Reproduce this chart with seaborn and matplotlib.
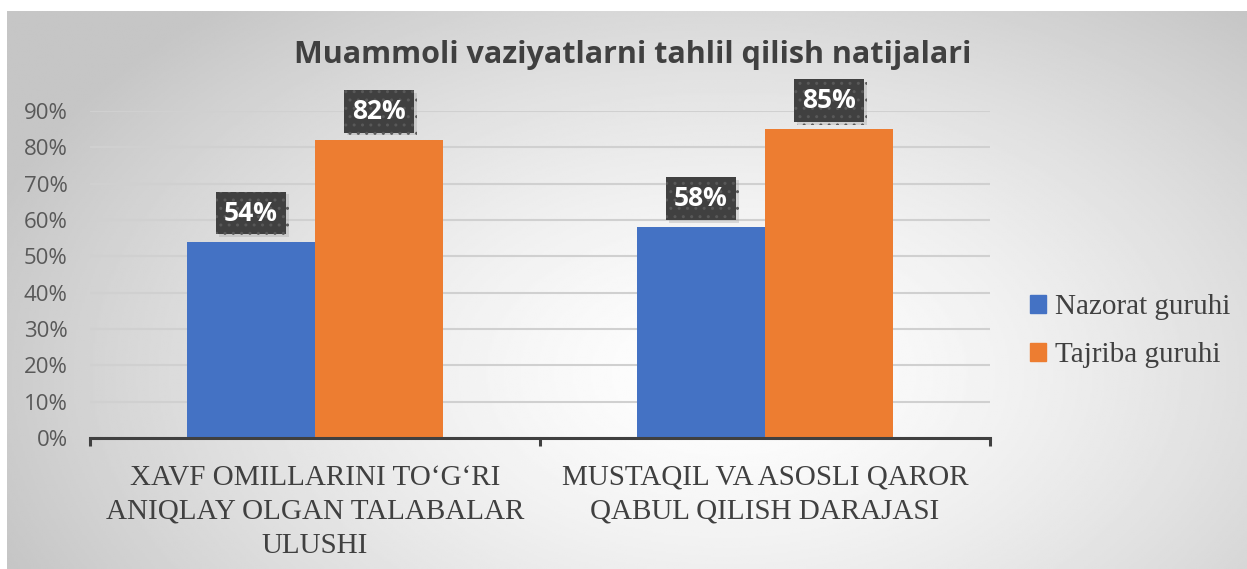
import numpy as np
import pandas as pd
import seaborn as sns
import matplotlib.pyplot as plt
import matplotlib.patheffects as pe
from matplotlib.ticker import PercentFormatter

# Ma'lumotlar
categories = ["XAVF OMILLARINI TO\u2018G\u2018RI\nANIQLAY OLGAN TALABALAR\nULUSHI",
              "MUSTAQIL VA ASOSLI QAROR\nQABUL QILISH DARAJASI"]
groups = ["Nazorat guruhi", "Tajriba guruhi"]
nazorat = [0.54, 0.58]
tajriba = [0.82, 0.85]
yticks = [0, 0.1, 0.2, 0.3, 0.4, 0.5, 0.6, 0.7, 0.8, 0.9]

df = pd.DataFrame({
    "kategoriya": categories * 2,
    "guruh": [groups[0]] * 2 + [groups[1]] * 2,
    "qiymat": nazorat + tajriba,
})

plt.rcParams['font.family'] = ['Open Sans', 'DejaVu Sans']

fig = plt.figure(figsize=(12.47, 5.69), dpi=100)

# fon: radial gradient
bg = fig.add_axes([0.0056, 0.0, 0.9944, 0.981])
yy, xx = np.mgrid[0:1:300j, 0:1:600j]
r = np.sqrt(((xx - 0.58) / 0.62) ** 2 + ((yy - 0.35) / 0.85) ** 2)
shade = np.clip(1.0 - 0.22 * r ** 1.4, 0.775, 1.0)
bg.imshow(shade, cmap='gray', vmin=0, vmax=1, aspect='auto', extent=[0, 1, 0, 1], origin='lower')
bg.set_axis_off()

ax = fig.add_axes([0.0722, 0.230, 0.7218, 0.575])
ax.patch.set_alpha(0)
sns.barplot(data=df, x="kategoriya", y="qiymat", hue="guruh",
            palette=["#4472C4", "#ED7D31"], width=0.57, ax=ax,
            saturation=1, legend=False)

ax.set_ylim(0, 0.9)
ax.set_xlim(-0.5, 1.5)
ax.set_yticks(yticks)
ax.yaxis.set_major_formatter(PercentFormatter(1.0, decimals=0))
ax.grid(axis='y', color='#d0d0d0', linewidth=1.5)
ax.set_axisbelow(True)
for s in ['left', 'right', 'top']:
    ax.spines[s].set_visible(False)
ax.spines['bottom'].set_color('#404040')
ax.spines['bottom'].set_linewidth(2.2)
ax.set_xlabel("")
ax.set_ylabel("")
ax.tick_params(axis='y', length=0, labelsize=16, labelcolor='#595959', pad=16)
ax.set_xticks([-0.5, 0.5, 1.5], minor=True)
ax.tick_params(axis='x', which='major', length=0, pad=19)
ax.tick_params(axis='x', which='minor', length=6, width=2.2, color='#404040')
for lab in ax.get_xticklabels():
    lab.set_fontfamily(['Liberation Serif'])
    lab.set_fontsize(21)
    lab.set_color('#404040')
    lab.set_multialignment('center')
    lab.set_linespacing(1.4)

for cont in ax.containers:
    anns = ax.bar_label(cont, labels=[f"{v * 100:.0f}%" for v in cont.datavalues],
                        padding=11, color='white', fontweight='bold', fontsize=19,
                        bbox=dict(boxstyle='square,pad=0.3', facecolor='#404040',
                                  edgecolor='#595959', hatch='..', linewidth=0))
    for a in anns:
        a.get_bbox_patch().set_path_effects(
            [pe.SimplePatchShadow(offset=(2, -2), shadow_rgbFace='#999999', alpha=0.3), pe.Normal()])

fig.text(0.507, 0.903, "Muammoli vaziyatlarni tahlil qilish natijalari",
         ha='center', va='center', fontsize=22, fontweight='bold', color='#404040')

handles = [plt.Rectangle((0, 0), 1, 1, color=c) for c in ["#4472C4", "#ED7D31"]]
leg = fig.legend(handles, groups, loc='center left', bbox_to_anchor=(0.805, 0.418),
                 frameon=False, handlelength=0.55, handleheight=0.55, handletextpad=0.3,
                 labelspacing=0.75, prop={'family': 'Liberation Serif', 'size': 21})
for t in leg.get_texts():
    t.set_color('#404040')

fig.savefig("out.png", dpi=100)
